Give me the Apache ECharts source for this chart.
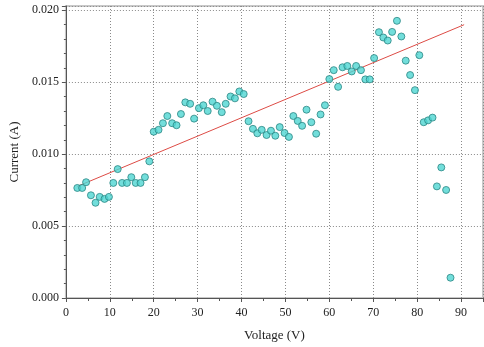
<!DOCTYPE html>
<html>
<head>
<meta charset="utf-8">
<script src="https://cdn.jsdelivr.net/npm/echarts@6/dist/echarts.min.js"></script>
<style>
  html, body { margin: 0; padding: 0; background: #fff; }
  #chart { width: 484px; height: 347px; }
</style>
</head>
<body>
<div id="chart"></div>
<script>
// measured points
const voltage = [2.6, 3.7, 4.6, 5.7, 6.75, 7.7, 8.8, 9.8, 10.8, 11.8, 12.8, 13.9, 14.9, 15.9, 17, 18, 19,
  20, 21.1, 22.1, 23.1, 24.2, 25.2, 26.2, 27.2, 28.3, 29.2, 30.3, 31.3, 32.3, 33.4, 34.4, 35.5, 36.4,
  37.5, 38.5, 39.5, 40.5, 41.6, 42.6, 43.6, 44.6, 45.7, 46.7, 47.7, 48.7, 49.8, 50.8, 51.8, 52.8, 53.8,
  54.8, 55.9, 57, 58, 59, 60, 61, 62, 63, 64.1, 65.1, 66.1, 67.2, 68.2, 69.2, 70.2, 71.3, 72.3, 73.3,
  74.3, 75.4, 76.4, 77.4, 78.4, 79.5, 80.5, 81.5, 82.5, 83.5, 84.5, 85.5, 86.6, 87.6];
const current = [0.00765, 0.00765, 0.00805, 0.00714, 0.00662, 0.00703, 0.00689, 0.00703, 0.0080, 0.00896,
  0.0080, 0.0080, 0.0084, 0.0080, 0.0080, 0.0084, 0.0095,
  0.01156, 0.01169, 0.01215, 0.01265, 0.01215, 0.01201, 0.01279, 0.0136, 0.0135, 0.01247, 0.0132, 0.0134,
  0.0130, 0.01365, 0.01336, 0.01292, 0.0135, 0.01401, 0.01388, 0.01436, 0.01418, 0.01229, 0.01176,
  0.01145, 0.01169, 0.01133, 0.01163, 0.01128, 0.01188, 0.01147, 0.0112, 0.01265, 0.01231, 0.01197,
  0.01309, 0.01222, 0.01142, 0.01276, 0.0134, 0.01522, 0.01584, 0.01468, 0.01604, 0.01613, 0.01575,
  0.01613, 0.01584, 0.0152, 0.0152, 0.01668, 0.01848, 0.01811, 0.0179, 0.0185, 0.01927, 0.01818,
  0.0165, 0.0155, 0.01445, 0.01688, 0.01222, 0.01235, 0.01254, 0.00776, 0.00908, 0.00751, 0.00141];

// fitted line endpoints
const fitVoltage = [2.6, 90.7];
const fitCurrent = [0.00776, 0.0190];

const xTicks = [0, 10, 20, 30, 40, 50, 60, 70, 80, 90];
const yTicks = [0.000, 0.005, 0.010, 0.015, 0.020];

const font = "Liberation Serif";
const chart = echarts.init(document.getElementById("chart"));

const gridLine = { show: true, lineStyle: { color: "#8a8a8a", type: [1, 2], width: 1 } };

chart.setOption({
  animation: false,
  grid: {
    left: 64, right: 1, top: 6, bottom: 44,
    show: true, borderColor: "#c8c8c8", borderWidth: 2,
  },
  xAxis: {
    type: "value",
    min: 0, max: 95, interval: 10,
    name: "Voltage (V)",
    nameLocation: "middle",
    nameGap: 31,
    nameTextStyle: { fontFamily: font, fontSize: 13, color: "#222" },
    axisLine: { lineStyle: { color: "#555" } },
    axisTick: { length: 4, lineStyle: { color: "#555" } },
    minorTick: { show: true, splitNumber: 2, length: 3, lineStyle: { color: "#555" } },
    axisLabel: {
      fontFamily: font, fontSize: 12, color: "#222", margin: 9,
      showMaxLabel: false,
      formatter: (v) => (xTicks.includes(v) ? String(v) : ""),
    },
    splitLine: gridLine,
  },
  yAxis: {
    type: "value",
    min: 0, max: 0.0203, interval: 0.005,
    name: "Current (A)",
    nameLocation: "middle",
    nameGap: 39,
    nameRotate: 90,
    nameTextStyle: { fontFamily: font, fontSize: 13, color: "#222" },
    axisLine: { show: true, lineStyle: { color: "#555" } },
    axisTick: { show: true, length: 4, lineStyle: { color: "#555" } },
    minorTick: { show: true, splitNumber: 5, length: 2, lineStyle: { color: "#555" } },
    axisLabel: {
      fontFamily: font, fontSize: 12, color: "#222", margin: 7,
      showMaxLabel: false,
      formatter: (v) => (yTicks.some((t) => Math.abs(t - v) < 1e-9) ? v.toFixed(3) : ""),
    },
    splitLine: gridLine,
  },
  series: [
    {
      type: "line",
      data: fitVoltage.map((v, i) => [v, fitCurrent[i]]),
      showSymbol: false,
      lineStyle: { color: "#dd4b45", width: 1 },
      z: 2,
    },
    {
      type: "scatter",
      data: voltage.map((v, i) => [v, current[i]]),
      symbolSize: 7,
      itemStyle: { color: "#4fd6d2", borderColor: "#2b8683", borderWidth: 1 },
      z: 3,
    },
  ],
});
</script>
</body>
</html>
